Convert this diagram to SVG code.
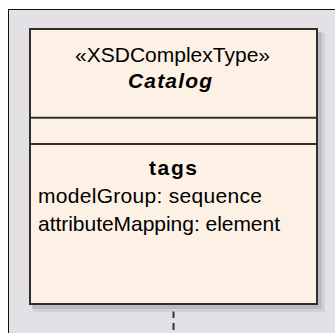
<svg xmlns="http://www.w3.org/2000/svg" width="335" height="333" viewBox="0 0 335 333">
  <style>
    .t { font-family: "Liberation Sans", Arial, sans-serif; font-size: 21px; fill: #000; }
    .c { text-anchor: middle; }
    .b { font-weight: bold; }
    .bi { font-weight: bold; font-style: italic; }
    .edge { stroke: #2e2e2e; stroke-width: 2; }
    .line { stroke: #2e2e2e; stroke-width: 2; fill: none; }
  </style>
  <rect x="0" y="0" width="335" height="333" fill="#ffffff"/>
  <g id="frame">
    <rect x="8.5" y="9.5" width="340" height="340" fill="#e4e1e6" stroke="#111" stroke-width="1"/>
  </g>
  <g id="connectors">
    <line x1="173.5" y1="311" x2="173.5" y2="333" stroke="#333" stroke-width="2" stroke-dasharray="7 5"/>
  </g>
  <g id="node-catalog">
    <rect x="33" y="33" width="292" height="279" fill="#c9c6cc" opacity="0.6"/>
    <rect x="32" y="32" width="290" height="277" fill="#b3b0b6" opacity="0.7"/>
    <rect x="30" y="29" width="287" height="275" fill="#fdf1e5" class="edge"/>
    <line x1="30" y1="117.7" x2="317" y2="117.7" class="line"/>
    <line x1="30" y1="144" x2="317" y2="144" class="line"/>
    <text class="t c" x="172.5" y="62" textLength="195">«XSDComplexType»</text>
    <text class="t c bi" x="170" y="88" textLength="84">Catalog</text>
    <text class="t c b" x="173" y="175" textLength="48">tags</text>
    <text class="t" x="38" y="203" textLength="224">modelGroup: sequence</text>
    <text class="t" x="38" y="231" textLength="242">attributeMapping: element</text>
  </g>
</svg>
